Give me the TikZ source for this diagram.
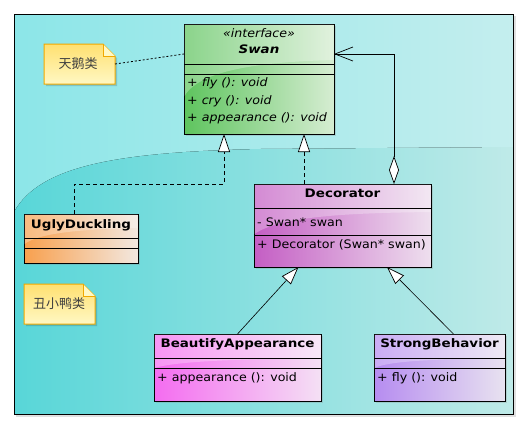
\documentclass[tikz,border=0pt]{standalone}
\usepackage{fontspec}
\setmainfont{DejaVu Sans}[FakeStretch=1.08, BoldFeatures={FakeStretch=1.15}, BoldItalicFeatures={FakeStretch=1.15}]
\newfontfamily\cjk{Noto Sans CJK SC}
\usetikzlibrary{arrows.meta,shadows}
\definecolor{bgA}{HTML}{8CE6E8}
\definecolor{bgB}{HTML}{C4EEEE}
\definecolor{bgC}{HTML}{58D6D8}
\definecolor{bgD}{HTML}{BFEAE8}
\definecolor{swanA}{HTML}{5EC45E}
\definecolor{swanB}{HTML}{D6EDD2}
\definecolor{decoA}{HTML}{C45EC4}
\definecolor{decoB}{HTML}{EEDFEE}
\definecolor{uglyA}{HTML}{F8A04E}
\definecolor{uglyB}{HTML}{F2E8E0}
\definecolor{beauA}{HTML}{F46CF0}
\definecolor{beauB}{HTML}{F4E0F4}
\definecolor{strA}{HTML}{B68CF0}
\definecolor{strB}{HTML}{E8E2F0}
\definecolor{noteA}{HTML}{FFE070}
\definecolor{noteB}{HTML}{FFF8C4}
\definecolor{noteE}{HTML}{F0A800}
\tikzset{
  umlbox/.style={draw=black, line width=0.9pt, anchor=north west, inner sep=0pt, outer sep=0pt,
     drop shadow={shadow xshift=2pt, shadow yshift=-2pt, opacity=0.25}},
  txt/.style={inner sep=0pt, font=\fontsize{11.7}{13}\selectfont},
  ttl/.style={inner sep=0pt, font=\bfseries\fontsize{11.7}{13}\selectfont},
  gloss/.style={fill=white, opacity=0.28},
  notebox/.style={anchor=north west, inner sep=0pt, outer sep=0pt},
  notefill/.style={draw=noteE, line width=1pt, top color=noteA, bottom color=noteB},
  sep/.style={line width=0.9pt},
  real/.style={dash pattern=on 4pt off 3pt, line width=0.7pt, -{Triangle[open, length=18pt, width=12pt, fill=white, line width=0.7pt]}},
  gen/.style={line width=0.6pt, -{Triangle[open, length=18pt, width=12pt, fill=white, line width=0.7pt]}},
  agg/.style={line width=0.7pt, {Diamond[open, length=28pt, width=10pt, fill=white]}-{Straight Barb[length=18pt, width=14pt, line width=0.7pt]}},
  notelink/.style={dash pattern=on 2pt off 2pt, line width=0.8pt}
}
\begin{document}
\begin{tikzpicture}[x=1pt,y=-1pt]
\useasboundingbox (0,0) rectangle (529,429);
% frame background
\fill[black, opacity=0.12] (16,16) rectangle (516,417);
\fill[left color=bgA, right color=bgB] (14,14) rectangle (513,414);
\fill[left color=bgC, right color=bgD] (14,212) .. controls (40,165) and (120,152) .. (260,149) -- (513,147) -- (513,414) -- (14,414) -- cycle;
\draw[line width=1pt] (14,14) rectangle (513,414);

% Swan
\node[umlbox, minimum width=150pt, minimum height=110pt, left color=swanA, right color=swanB] (swan) at (184,24) {};
\fill[gloss] (184.5,24.5) -- (333.5,24.5) -- (333.5,60) .. controls (260,62) and (200,70) .. (184.5,96) -- cycle;
\draw[sep] (184,64) -- (334,64);
\draw[sep] (184,74) -- (334,74);
\node[txt, font=\itshape\fontsize{11.7}{13}\selectfont] (swanst) at (259,33) {«interface»};
\node[ttl, font=\bfseries\itshape\fontsize{11.7}{13}\selectfont] (swantt) at (259,49) {Swan};
\node[txt, anchor=west, font=\itshape\fontsize{11.7}{13}\selectfont] (swanm1) at (187,83) {+ fly (): void};
\node[txt, anchor=west, font=\itshape\fontsize{11.7}{13}\selectfont] (swanm2) at (187,101) {+ cry (): void};
\node[txt, anchor=west, font=\itshape\fontsize{11.7}{13}\selectfont] (swanm3) at (187,118) {+ appearance (): void};

% Decorator
\node[umlbox, minimum width=177pt, minimum height=83pt, left color=decoA, right color=decoB] (deco) at (254,184) {};
\fill[gloss] (254.5,184.5) -- (430.5,184.5) -- (430.5,212) .. controls (350,213) and (280,216) .. (254.5,234) -- cycle;
\draw[sep] (254,208) -- (431,208);
\draw[sep] (254,235) -- (431,235);
\node[ttl] (decott) at (342.5,193) {Decorator};
\node[txt, anchor=west] (decoa) at (257,222) {- Swan* swan};
\node[txt, anchor=west] (decom) at (257,245) {+ Decorator (Swan* swan)};

% UglyDuckling
\node[umlbox, minimum width=114pt, minimum height=49pt, left color=uglyA, right color=uglyB] (ugly) at (24,214) {};
\fill[gloss] (24.5,214.5) -- (137.5,214.5) -- (137.5,228) .. controls (90,229) and (40,232) .. (24.5,244) -- cycle;
\draw[sep] (24,238) -- (138,238);
\draw[sep] (24,248) -- (138,248);
\node[ttl] (uglytt) at (81,225) {UglyDuckling};

% BeautifyAppearance
\node[umlbox, minimum width=167pt, minimum height=67pt, left color=beauA, right color=beauB] (beau) at (154,334) {};
\fill[gloss] (154.5,334.5) -- (320.5,334.5) -- (320.5,358) .. controls (260,359) and (180,360) .. (154.5,368) -- cycle;
\draw[sep] (154,358) -- (321,358);
\draw[sep] (154,368) -- (321,368);
\node[ttl] (beautt) at (237.5,344) {BeautifyAppearance};
\node[txt, anchor=west] (beaum) at (157,378) {+ appearance (): void};

% StrongBehavior
\node[umlbox, minimum width=131pt, minimum height=67pt, left color=strA, right color=strB] (strong) at (374,334) {};
\fill[gloss] (374.5,334.5) -- (504.5,334.5) -- (504.5,358) .. controls (450,359) and (390,360) .. (374.5,368) -- cycle;
\draw[sep] (374,358) -- (505,358);
\draw[sep] (374,368) -- (505,368);
\node[ttl] (strongtt) at (439.5,344) {StrongBehavior};
\node[txt, anchor=west] (strongm) at (377,378) {+ fly (): void};

% Notes
\fill[black, opacity=0.15] (46,46) -- (105,46) -- (117,58) -- (117,86) -- (46,86) -- cycle;
\draw[notefill] (44,44) -- (103,44) -- (115,56) -- (115,84) -- (44,84) -- cycle;
\draw[draw=noteE, line width=0.8pt, fill=noteB] (103,44) -- (103,56) -- (115,56);
\node[notebox, minimum width=71pt, minimum height=40pt] (note1) at (44,44) {};
\node[inner sep=0pt, font=\cjk\fontsize{13}{15}\selectfont, text=black!75] (note1t) at (78,64) {天鹅类};

\fill[black, opacity=0.15] (26,286) -- (85,286) -- (97,298) -- (97,326) -- (26,326) -- cycle;
\draw[notefill] (24,284) -- (83,284) -- (95,296) -- (95,324) -- (24,324) -- cycle;
\draw[draw=noteE, line width=0.8pt, fill=noteB] (83,284) -- (83,296) -- (95,296);
\node[notebox, minimum width=71pt, minimum height=40pt] (note2) at (24,284) {};
\node[inner sep=0pt, font=\cjk\fontsize{13}{15}\selectfont, text=black!75] (note2t) at (59,304) {丑小鸭类};

% connectors
\coordinate (swanL) at (184,54);
\coordinate (swanR) at (334,54);
\coordinate (uglyUp) at (74,214);
\coordinate (swanU) at (224,134);
\coordinate (swanD) at (304,134);
\coordinate (decoAgg) at (394,184);
\coordinate (decoG1) at (298.5,267);
\coordinate (decoG2) at (387,267);
\coordinate (strongUp) at (453.5,334);

\draw[notelink] (note1.east) -- (swanL);
\draw[real] (uglyUp) |- (swanU |- deco.north) -- (swanU);
\draw[real] (swanD |- deco.north) -- (swanD);
\draw[agg] (decoAgg) |- (swanR);
\draw[gen] (beau.north) -- (decoG1);
\draw[gen] (strongUp) -- (decoG2);
\end{tikzpicture}
\end{document}
